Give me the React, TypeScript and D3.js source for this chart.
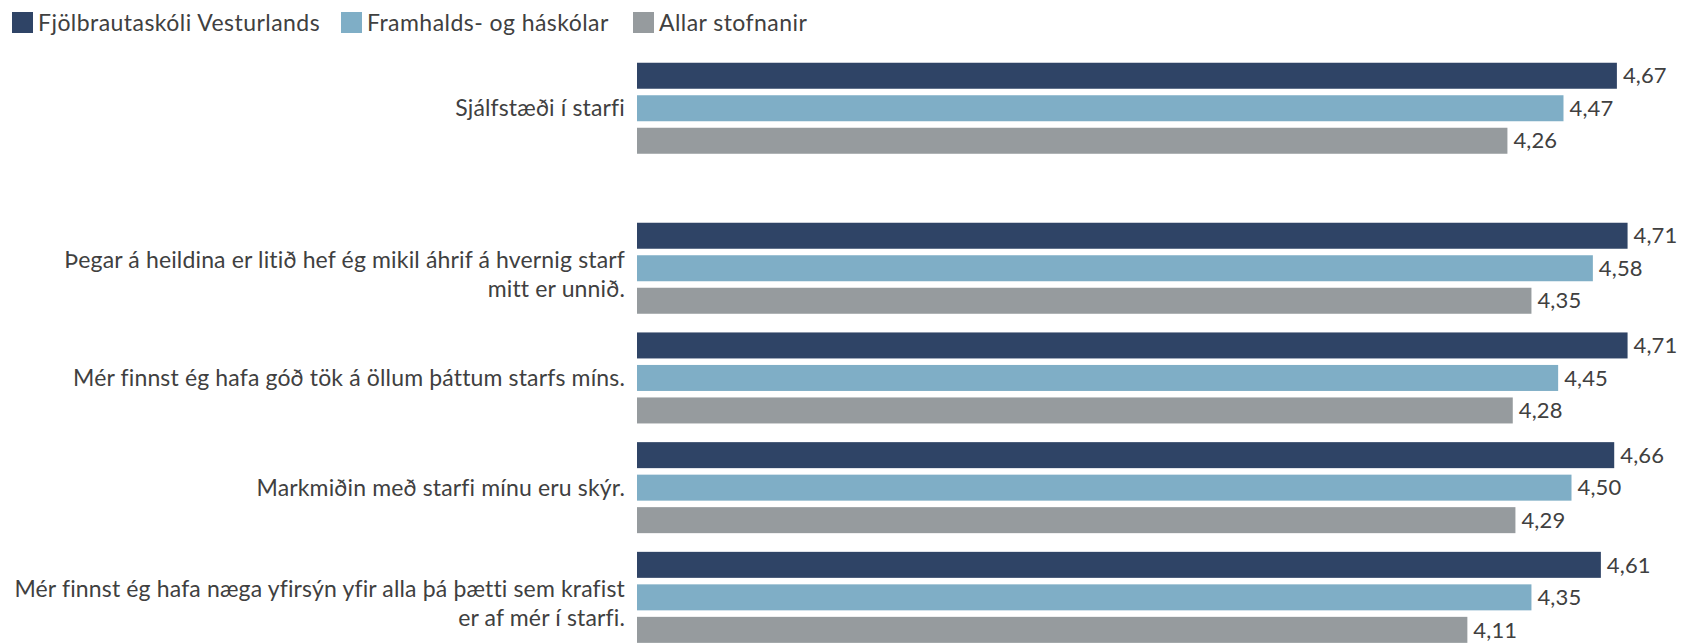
import React from "react";
import * as d3 from "d3";

const categories: string[][] = [
  ["Sjálfstæði í starfi"],
  ["Þegar á heildina er litið hef ég mikil áhrif á hvernig starf", "mitt er unnið."],
  ["Mér finnst ég hafa góð tök á öllum þáttum starfs míns."],
  ["Markmiðin með starfi mínu eru skýr."],
  ["Mér finnst ég hafa næga yfirsýn yfir alla þá þætti sem krafist", "er af mér í starfi."],
];

const seriesNames = ["Fjölbrautaskóli Vesturlands", "Framhalds- og háskólar", "Allar stofnanir"];
const seriesColors = ["#2f4466", "#7faec6", "#969b9e"];

const fjolbrautaskoli = [4.67, 4.71, 4.71, 4.66, 4.61];
const framhalds = [4.47, 4.58, 4.45, 4.5, 4.35];
const allar = [4.26, 4.35, 4.28, 4.29, 4.11];
const seriesValues = [fjolbrautaskoli, framhalds, allar];

const W = 1682;
const H = 643;
const FONT = "'Source Sans Pro', Lato, 'Noto Sans', sans-serif";
const TEXT = "#404040";

export default function App() {
  const x = d3.scaleLinear().domain([1, 5]).range([637, 1705]);
  const step = 109.7;
  const sectionGap = 50.3;
  const top = 53.4;
  const idx = categories.map((_, i) => String(i));
  const y0 = d3
    .scaleBand()
    .domain(idx)
    .range([top, top + step * categories.length]);
  const groupTop = (i: number) => (y0(String(i)) as number) + (i >= 1 ? sectionGap : 0);
  const y1 = d3
    .scaleBand()
    .domain(seriesNames)
    .range([0, y0.bandwidth()])
    .paddingInner(0.2)
    .paddingOuter(0.2875);

  const legendX = [12, 341, 633];
  const textStyle = { fontVariantLigatures: "none", letterSpacing: "0.15px" } as React.CSSProperties;
  const legendStyle = { fontVariantLigatures: "none", letterSpacing: "0.45px" } as React.CSSProperties;

  return (
    <svg
      width={W}
      height={H}
      style={{ position: "absolute", left: 0, top: 0, background: "#fff" }}
      fontFamily={FONT}
    >
      <g>
        {seriesNames.map((s, i) => (
          <g key={s} transform={`translate(${legendX[i]},12)`}>
            <rect width={21} height={21} fill={seriesColors[i]} />
            <text x={26} y={10.5} dy="0.35em" fontSize={23} fill={TEXT} style={legendStyle}>
              {s}
            </text>
          </g>
        ))}
      </g>
      {categories.map((lines, ci) => {
        const gt = groupTop(ci);
        const cy = gt + y0.bandwidth() / 2;
        return (
          <g key={ci}>
            <text x={625} textAnchor="end" fontSize={23} fill={TEXT} style={textStyle}>
              {lines.map((l, li) => (
                <tspan
                  key={li}
                  x={625}
                  y={lines.length === 1 ? cy : cy - 8.5 + li * 29}
                  dy="0.35em"
                >
                  {l}
                </tspan>
              ))}
            </text>
            {seriesNames.map((s, si) => {
              const v = seriesValues[si][ci];
              const by = gt + (y1(s) as number);
              return (
                <g key={s}>
                  <rect
                    x={x(1)}
                    y={by}
                    width={x(v) - x(1)}
                    height={y1.bandwidth()}
                    fill={seriesColors[si]}
                  />
                  <text
                    x={x(v) + 6}
                    y={by + y1.bandwidth() / 2}
                    dy="0.35em"
                    fontSize={22}
                    fill={TEXT}
                    style={textStyle}
                  >
                    {v.toFixed(2).replace(".", ",")}
                  </text>
                </g>
              );
            })}
          </g>
        );
      })}
    </svg>
  );
}
